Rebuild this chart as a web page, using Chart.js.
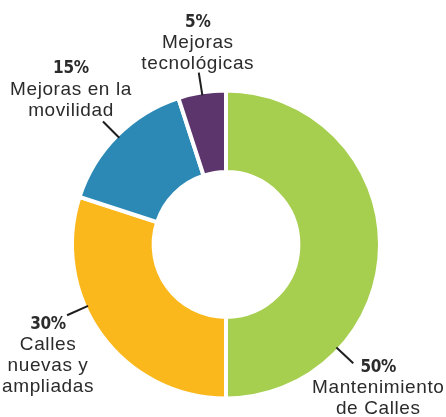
<!DOCTYPE html>
<html>
<head>
<meta charset="utf-8">
<script src="https://cdn.jsdelivr.net/npm/chart.js@4"></script>
<style>
  html, body { margin: 0; padding: 0; background: #ffffff; }
  #wrap { width: 446px; height: 417px; position: relative; }
</style>
</head>
<body>
<div id="wrap"><canvas id="c" width="446" height="417"></canvas></div>
<script>
// ---- data ----
const categories = ["Mantenimiento de Calles", "Calles nuevas y ampliadas", "Mejoras en la movilidad", "Mejoras tecnológicas"];
const values = [50, 30, 15, 5];
const percentLabels = ["50%", "30%", "15%", "5%"];
const labelLines = [["Mantenimiento", "de Calles"], ["Calles", "nuevas y", "ampliadas"], ["Mejoras en la", "movilidad"], ["Mejoras", "tecnológicas"]];
const sliceColors = ["#A6CE4F", "#FBB81C", "#2C89B5", "#5C356D"];

// ---- label layout (leader angle in degrees clockwise from top, text offset from leader end) ----
const leaderAngle = [133, 246, 315, 351];
const textOffset = [
  { dx: 25, dy: 4, anchor: "top" },
  { dx: -19, dy: 9, anchor: "top" },
  { dx: -32, dy: -11, anchor: "bottom" },
  { dx: -1, dy: -9, anchor: "bottom" }
];
const lineGap = 20.7;
const boldFont = 'bold 17px "DejaVu Sans Condensed", "Liberation Sans Narrow", sans-serif';
const textFont = '19px "Liberation Sans", Arial, sans-serif';
const textColor = "#2b2b2b";

const outLabels = {
  id: "outLabels",
  afterDatasetsDraw(chart) {
    const ctx = chart.ctx;
    const meta = chart.getDatasetMeta(0);
    meta.data.forEach((arc, i) => {
      const p = arc.getProps(["x", "y", "outerRadius"], true);
      const a = (leaderAngle[i] - 90) * Math.PI / 180;
      const r1 = p.outerRadius - 3, r2 = p.outerRadius + 20;
      const x1 = p.x + Math.cos(a) * r1, y1 = p.y + Math.sin(a) * r1;
      const x2 = p.x + Math.cos(a) * r2, y2 = p.y + Math.sin(a) * r2;
      ctx.save();
      ctx.strokeStyle = "#1e1e1e";
      ctx.lineWidth = 2;
      ctx.beginPath(); ctx.moveTo(x1, y1); ctx.lineTo(x2, y2); ctx.stroke();
      const lines = [percentLabels[i]].concat(labelLines[i]);
      const off = textOffset[i];
      const cx = x2 + off.dx;
      let startY = y2 + off.dy;
      if (off.anchor === "bottom") startY -= (lines.length - 1) * lineGap;
      ctx.fillStyle = textColor;
      ctx.textAlign = "center";
      ctx.textBaseline = "middle";
      lines.forEach((t, k) => {
        ctx.font = k === 0 ? boldFont : textFont;
        ctx.letterSpacing = k === 0 ? "-0.3px" : "0.6px";
        ctx.fillText(t, cx, startY + k * lineGap);
      });
      ctx.restore();
    });
  }
};

new Chart(document.getElementById("c"), {
  type: "doughnut",
  data: {
    labels: categories,
    datasets: [{
      data: values,
      backgroundColor: sliceColors,
      borderColor: "#ffffff",
      borderWidth: 4,
      borderJoinStyle: "miter"
    }]
  },
  options: {
    responsive: false,
    animation: false,
    cutout: "47%",
    layout: { padding: { top: 88, bottom: 16, left: 70, right: 64 } },
    plugins: {
      legend: { display: false },
      tooltip: { enabled: false }
    }
  },
  plugins: [outLabels]
});
</script>
</body>
</html>
